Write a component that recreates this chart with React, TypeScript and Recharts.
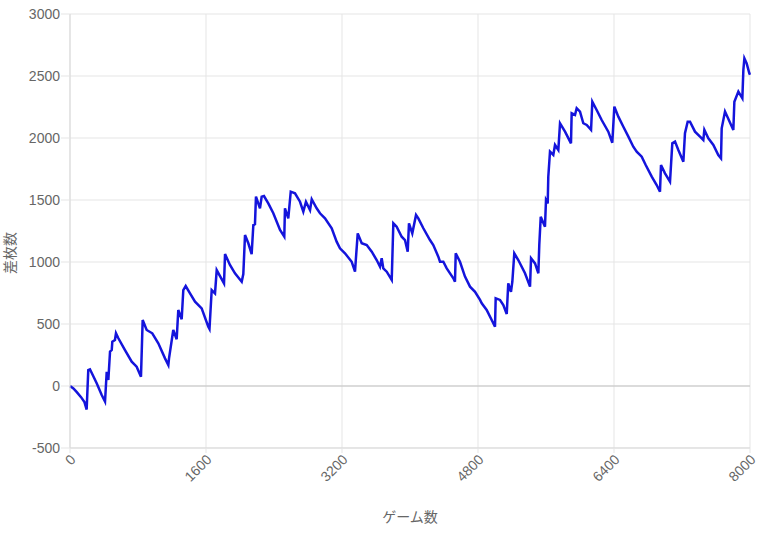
import React from "react";
import {
  LineChart, Line, XAxis, YAxis, CartesianGrid, ReferenceLine, Label,
} from "recharts";

// ゲーム数 (x) と 差枚数 (y)
const GAMES = [
  0, 40, 80, 130, 170, 196, 215, 235, 314, 373, 412, 432, 451, 471, 491, 498, 529, 541, 569, 647,
  726, 784, 835, 855, 902, 968, 1039, 1118, 1157, 1165, 1215, 1255, 1274, 1314, 1333, 1361, 1412, 1471, 1549, 1627,
  1641, 1667, 1706, 1726, 1812, 1824, 1882, 1941, 2020, 2039, 2059, 2098, 2137, 2157, 2176, 2188, 2235, 2255, 2282, 2333,
  2392, 2471, 2521, 2529, 2568, 2597, 2647, 2706, 2745, 2776, 2824, 2844, 2902, 2941, 3000, 3079, 3137, 3176, 3235, 3314,
  3353, 3361, 3385, 3432, 3491, 3550, 3608, 3647, 3667, 3686, 3726, 3785, 3804, 3843, 3902, 3941, 3973, 3988, 4027, 4071,
  4098, 4157, 4235, 4274, 4333, 4353, 4392, 4432, 4510, 4529, 4538, 4588, 4647, 4706, 4765, 4824, 4844, 4902, 4961, 5000,
  5008, 5059, 5098, 5138, 5156, 5188, 5204, 5227, 5274, 5353, 5412, 5424, 5471, 5510, 5521, 5538, 5588, 5600, 5620, 5627,
  5647, 5686, 5706, 5745, 5765, 5824, 5894, 5902, 5941, 5961, 6000, 6039, 6079, 6130, 6145, 6196, 6255, 6333, 6380, 6404,
  6451, 6510, 6569, 6627, 6667, 6726, 6773, 6844, 6902, 6941, 6953, 7000, 7059, 7086, 7118, 7157, 7216, 7235, 7267, 7294,
  7353, 7412, 7451, 7463, 7510, 7569, 7627, 7659, 7667, 7706, 7804, 7816, 7863, 7910, 7922, 7934, 7961, 7992, 8000,
];
const DIFF = [
  0, -20, -50, -90, -130, -190, 129, 135, 22, -73, -126, 115, 48, 277, 290, 357, 371, 425, 385, 290,
  196, 156, 75, 532, 452, 425, 344, 223, 169, 223, 452, 377, 613, 538, 774, 806, 747, 680, 626, 478,
  460, 774, 747, 935, 828, 1064, 976, 909, 841, 903, 1218, 1151, 1064, 1298, 1304, 1527, 1433, 1527, 1532, 1473,
  1393, 1258, 1204, 1433, 1352, 1567, 1554, 1486, 1406, 1486, 1419, 1506, 1433, 1393, 1352, 1272, 1164, 1110, 1070, 1002,
  922, 1002, 1231, 1151, 1137, 1083, 1016, 962, 1030, 949, 922, 855, 1312, 1285, 1204, 1177, 1083, 1312, 1231, 1379,
  1352, 1272, 1177, 1137, 1043, 1002, 1002, 949, 869, 841, 1070, 1002, 882, 801, 760, 694, 667, 613, 532, 478,
  707, 694, 653, 581, 828, 760, 841, 1070, 1016, 909, 801, 1030, 989, 909, 1137, 1365, 1285, 1500, 1473, 1688,
  1890, 1863, 1944, 1903, 2119, 2051, 1957, 2199, 2186, 2240, 2213, 2119, 2105, 2065, 2293, 2226, 2145, 2051, 1962, 2253,
  2172, 2091, 2011, 1930, 1890, 1849, 1782, 1688, 1621, 1567, 1782, 1715, 1648, 1957, 1971, 1903, 1809, 2038, 2132, 2132,
  2051, 2011, 1984, 2065, 1997, 1944, 1863, 1836, 2078, 2213, 2065, 2293, 2374, 2320, 2549, 2643, 2602, 2522, 2510,
];
const X_TICKS = [0, 1600, 3200, 4800, 6400, 8000];
const Y_TICKS = [-500, 0, 500, 1000, 1500, 2000, 2500, 3000];

const data = GAMES.map((g, i) => ({ g, v: DIFF[i] }));

const FONT = "'Liberation Sans', Arial, 'Noto Sans CJK JP', sans-serif";

const XTick = ({ x, y, payload }: any) => (
  <g transform={`translate(${x + 3},${y + 4})`}>
    <text transform="rotate(-45)" textAnchor="end" dy="0.35em" fill="#666" fontSize={14} fontFamily={FONT}>
      {payload.value}
    </text>
  </g>
);

const YLabel = () => (
  <text x={10} y={253} transform="rotate(-90,10,253)" textAnchor="middle" dominantBaseline="central"
    fill="#666" fontSize={14} fontFamily={FONT}>
    差枚数
  </text>
);

export default function App() {
  return (
    <div style={{ position: "absolute", left: 0, top: 0, background: "#fff" }}>
      <LineChart width={763} height={536} data={data} margin={{ top: 14, right: 13, bottom: 0, left: 0 }}>
        <CartesianGrid stroke="#e5e5e5" />
        <XAxis
          dataKey="g" type="number" domain={[0, 8000]} ticks={X_TICKS} interval={0}
          height={88} tickSize={5} tickMargin={0}
          tickLine={{ stroke: "#e5e5e5" }} axisLine={{ stroke: "#d9d9d9" }}
          tick={<XTick />}
        >
          <Label value="ゲーム数" position="insideBottom" offset={14} fill="#666" fontSize={14} fontFamily={FONT} />
        </XAxis>
        <YAxis
          type="number" domain={[-500, 3000]} ticks={Y_TICKS} interval={0} width={70}
          tickSize={9} tickMargin={1}
          tickLine={{ stroke: "#e5e5e5" }} axisLine={{ stroke: "#d9d9d9" }}
          tick={{ fill: "#666", fontSize: 14, fontFamily: FONT }}
          label={<YLabel />}
        />
        <ReferenceLine y={0} stroke="#c4c4c4" strokeWidth={1} />
        <Line
          type="linear" dataKey="v" stroke="#1414dc" strokeWidth={2.5} dot={false}
          isAnimationActive={false}
        />
      </LineChart>
    </div>
  );
}
